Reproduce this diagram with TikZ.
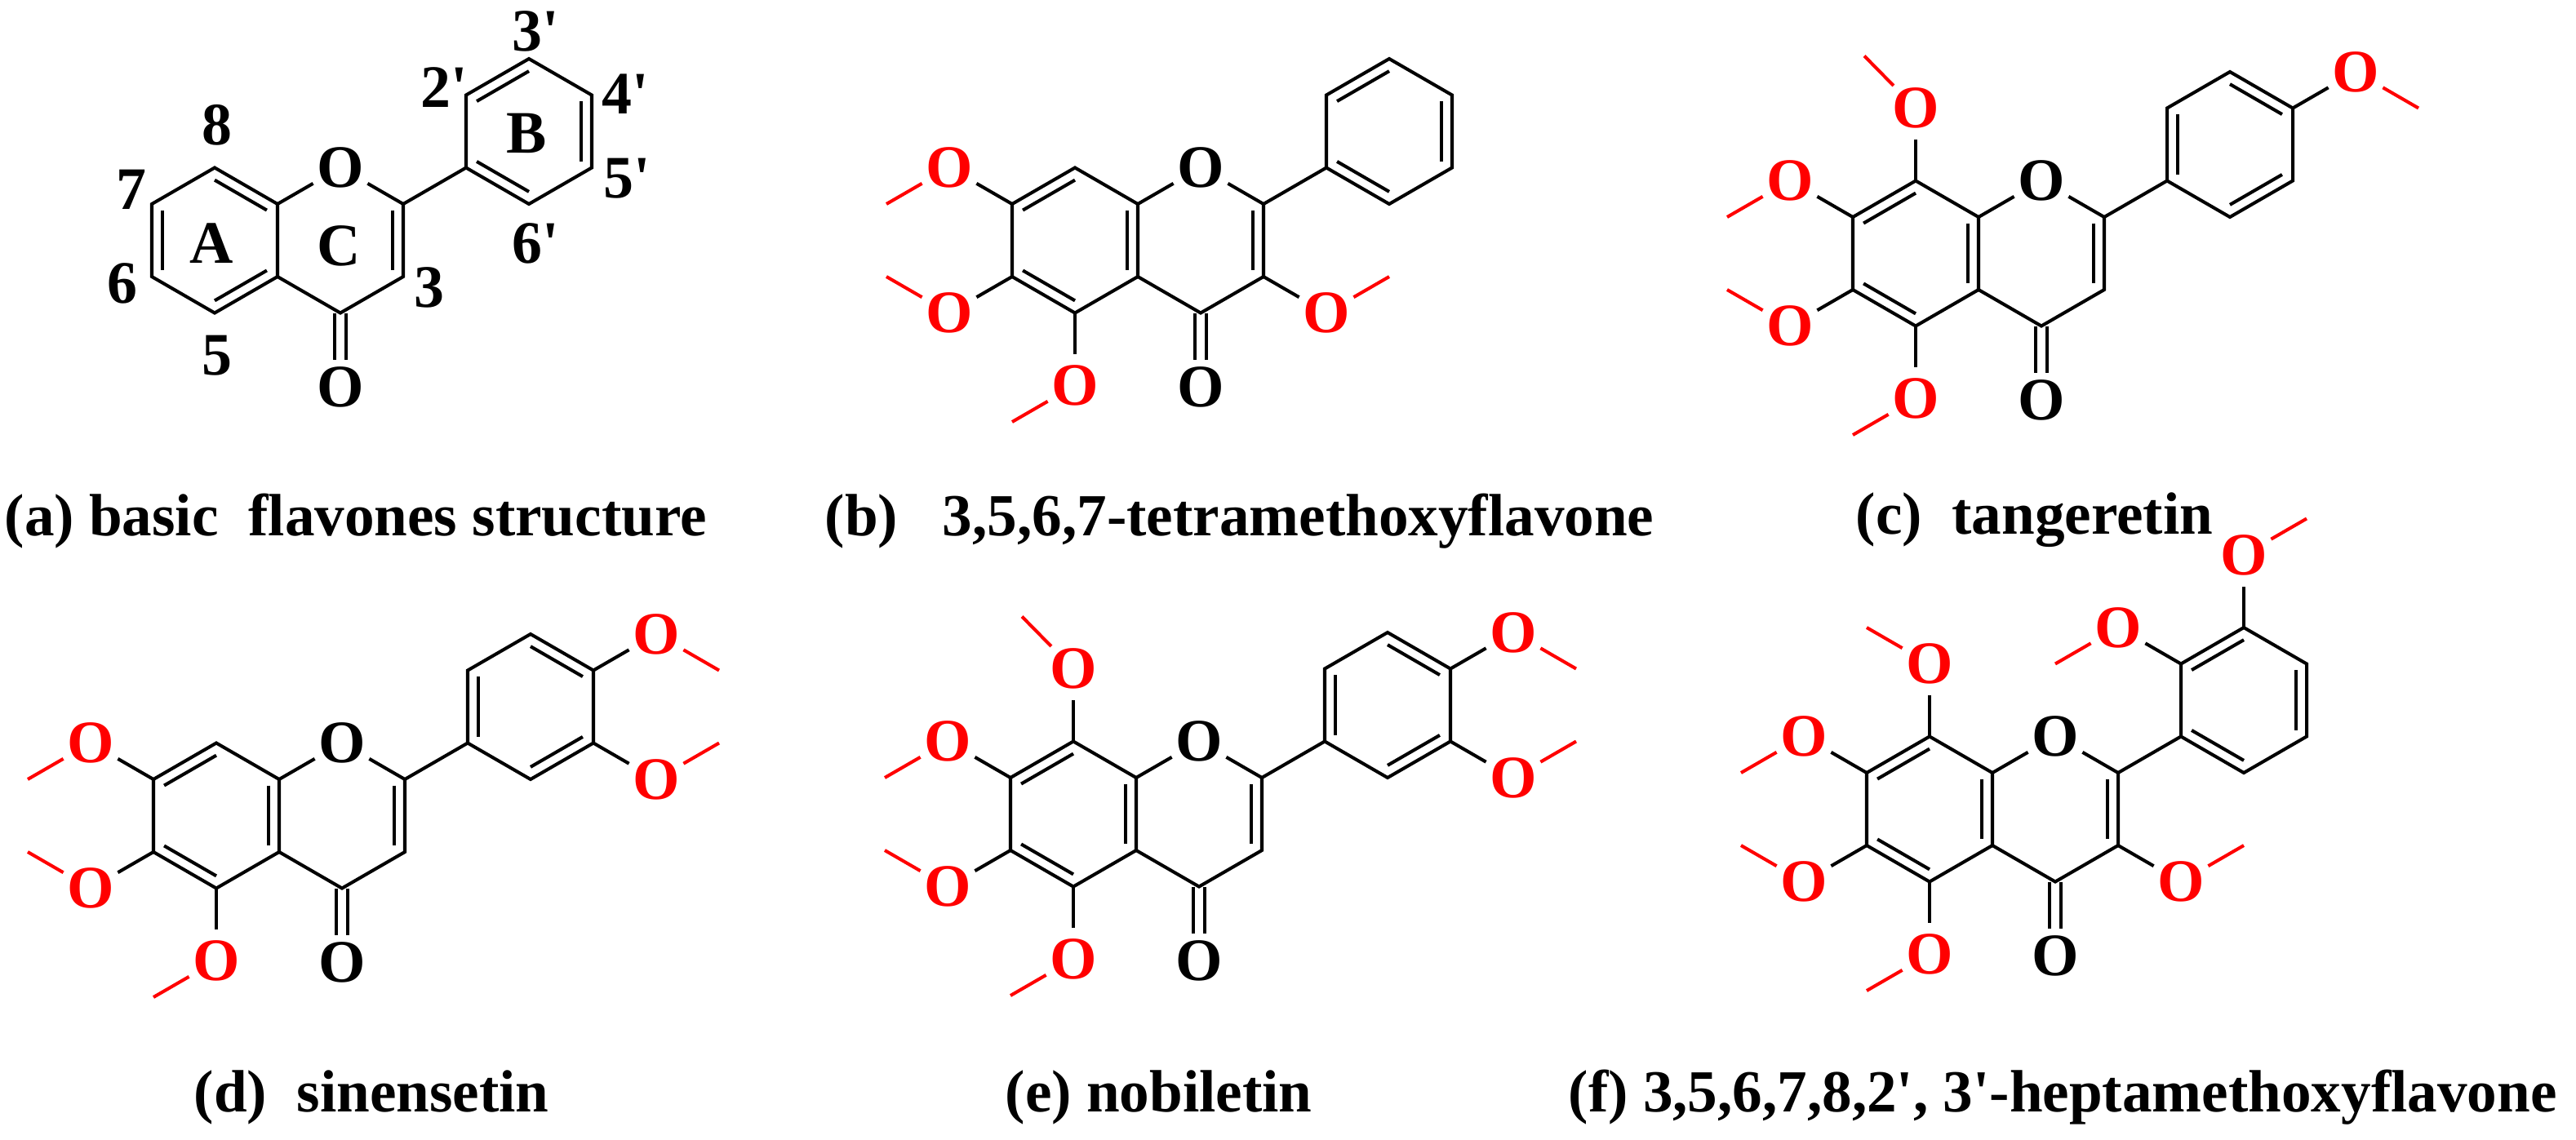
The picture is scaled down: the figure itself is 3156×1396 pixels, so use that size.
\documentclass[tikz,border=0pt]{standalone}
\usepackage{fontspec}
\setmainfont{Liberation Serif}
\usetikzlibrary{calc}
\definecolor{ored}{RGB}{255,0,0}
\tikzset{
  bond/.style={line width=1.15pt,black},
  mebond/.style={line width=1.15pt,ored},
  atom/.style={circle,inner sep=0pt,minimum size=0.7cm,font=\fontsize{21}{25}\selectfont\bfseries},
  ome/.style={atom,text=ored},
  num/.style={inner sep=0pt,font=\fontsize{21}{25}\selectfont\bfseries},
  lab/.style={anchor=base west,inner sep=0pt,font=\fontsize{20.8}{25}\selectfont\bfseries}
}
% core skeleton: #1 prefix, #2 X, #3 Y (C8a position)
\newcommand\flav[3]{%
\begin{scope}[shift={(#2,#3)}]
 \coordinate (#1c8a) at (0,0);
 \coordinate (#1c4a) at (0,89);
 \coordinate (#1c5) at (-77,133.5);
 \coordinate (#1c6) at (-154,89);
 \coordinate (#1c7) at (-154,0);
 \coordinate (#1c8) at (-77,-44.5);
 \coordinate (#1c2) at (154,0);
 \coordinate (#1c3) at (154,89);
 \coordinate (#1c4) at (77,133.5);
 \coordinate (#1b1) at (231,-44.5);
 \coordinate (#1b2) at (231,-133.5);
 \coordinate (#1b3) at (308,-178);
 \coordinate (#1b4) at (385,-133.5);
 \coordinate (#1b5) at (385,-44.5);
 \coordinate (#1b6) at (308,0);
 \coordinate (#1rA) at (-77,44.5);
 \coordinate (#1rC) at (77,44.5);
 \coordinate (#1rB) at (308,-89);
 \node[atom] (#1o1) at (77,-44.5) {O};
 \node[atom] (#1oc) at (77,224) {O};
\end{scope}
\draw[bond] (#1c8a)--(#1c8)--(#1c7)--(#1c6)--(#1c5)--(#1c4a)--cycle;
\draw[bond] (#1c8a)--(#1o1);
\draw[bond] (#1o1)--(#1c2)--(#1c3)--(#1c4)--(#1c4a);
\draw[bond] (#1c2)--(#1b1);
\draw[bond] (#1b1)--(#1b2)--(#1b3)--(#1b4)--(#1b5)--(#1b6)--cycle;
\draw[bond] ($(#1c4)+(-7,0)$) -- ($(#1oc.center)+(-7,-33)$);
\draw[bond] ($(#1c4)+(7,0)$) -- ($(#1oc.center)+(7,-33)$);
\dbl{#1}{c2}{c3}{rC}
}
\newcommand\dbl[4]{\draw[bond] ($(#1#2)!0.17!(#1#4)$) -- ($(#1#3)!0.17!(#1#4)$);}
% A-ring doubles types
\newcommand\Aone[1]{\dbl{#1}{c7}{c8}{rA}\dbl{#1}{c8a}{c4a}{rA}\dbl{#1}{c5}{c6}{rA}}
\newcommand\Btwo[1]{\dbl{#1}{b2}{b3}{rB}\dbl{#1}{b4}{b5}{rB}\dbl{#1}{b6}{b1}{rB}}
\newcommand\Bone[1]{\dbl{#1}{b1}{b2}{rB}\dbl{#1}{b3}{b4}{rB}\dbl{#1}{b5}{b6}{rB}}
% methoxy: prefix, atom, O offset, methyl offset
\newcommand\ome[6]{%
 \node[ome] (#1#2O) at ($(#1#2)+(#3,#4)$) {O};
 \draw[bond] (#1#2) -- (#1#2O);
 \draw[mebond] (#1#2O) -- ($(#1#2O.center)+(#5,#6)$);
}
\newcommand\Aome[1]{%
 \ome{#1}{c7}{-77}{-44.5}{-77}{44.5}
 \ome{#1}{c6}{-77}{44.5}{-77}{-44.5}
 \ome{#1}{c5}{0}{89}{-77}{44.5}
}
\begin{document}
\begin{tikzpicture}[x=0.01cm,y=-0.01cm]
\useasboundingbox (0,0) rectangle (3156,1396);
% (a)
\flav{a}{340}{250}
\dbl{a}{c7}{c6}{rA}\dbl{a}{c8}{c8a}{rA}\dbl{a}{c4a}{c5}{rA}
\Btwo{a}
\node[num] (n8) at (266,153) {8};
\node[num] (n7) at (161,232) {7};
\node[num] (n6) at (150,347) {6};
\node[num] (n5) at (266,436) {5};
\node[num] (n3) at (526,352) {3};
\node[num] (n2p) at (544,107) {2\textquotesingle};
\node[num] (n3p) at (656,38) {3\textquotesingle};
\node[num] (n4p) at (766,115) {4\textquotesingle};
\node[num] (n5p) at (768,219) {5\textquotesingle};
\node[num] (n6p) at (656,298) {6\textquotesingle};
\node[num] (rgA) at (259,298) {A};
\node[num] (rgC) at (415,301) {C};
\node[num] (rgB) at (645,163) {B};
% (b)
\flav{b}{1394}{250}
\Aone{b}\Btwo{b}
\Aome{b}
\ome{b}{c3}{77}{44.5}{77}{-44.5}
% (c)
\flav{c}{2424}{266}
\Aone{c}\Bone{c}
\Aome{c}
\ome{c}{c8}{0}{-89}{-63}{-64}
\ome{c}{b4}{77}{-44.5}{77}{44.5}
% (d)
\flav{d}{342}{955}
\Aone{d}\Bone{d}
\Aome{d}
\ome{d}{b4}{77}{-44.5}{77}{44.5}
\ome{d}{b5}{77}{44.5}{77}{-44.5}
% (e)
\flav{e}{1392}{953}
\Aone{e}\Bone{e}
\Aome{e}
\ome{e}{c8}{0}{-89}{-63}{-64}
\ome{e}{b4}{77}{-44.5}{77}{44.5}
\ome{e}{b5}{77}{44.5}{77}{-44.5}
% (f)
\flav{f}{2441}{947}
\Aone{f}\Btwo{f}
\Aome{f}
\ome{f}{c8}{0}{-89}{-77}{-44.5}
\ome{f}{c3}{77}{44.5}{77}{-44.5}
\ome{f}{b2}{-77}{-44.5}{-77}{44.5}
\ome{f}{b3}{0}{-89}{77}{-44.5}
% labels
\node[lab] (la) at (5,656) {(a) basic\ \ flavones structure};
\node[lab] (lb) at (1010,656) {(b)\ \ \ 3,5,6,7-tetramethoxyflavone};
\node[lab] (lc) at (2273,654) {(c)\ \ tangeretin};
\node[lab] (ld) at (237,1362) {(d)\ \ sinensetin};
\node[lab] (le) at (1231,1362) {(e) nobiletin};
\node[lab] (lf) at (1921,1362) {(f) 3,5,6,7,8,2\textquotesingle, 3\textquotesingle-heptamethoxyflavone};
\end{tikzpicture}
\end{document}
